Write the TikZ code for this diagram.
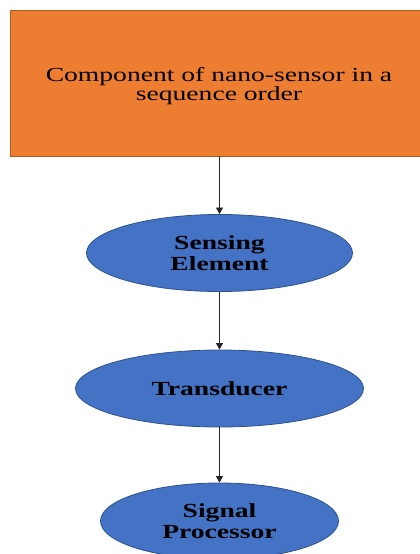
\documentclass[tikz,border=0pt]{standalone}
\usepackage{fontspec}
\setmainfont{Liberation Serif}
\newfontfamily\widefont[FakeStretch=1.38]{Liberation Serif}
\usetikzlibrary{shapes.geometric,arrows.meta}
\definecolor{boxorange}{HTML}{ED7D31}
\definecolor{boxorangeline}{HTML}{AE5A21}
\definecolor{ellblue}{HTML}{4472C4}
\definecolor{ellblueline}{HTML}{2F528F}
\tikzset{
  titlebox/.style={draw=boxorangeline, line width=0.8pt, fill=boxorange},
  stage/.style={ellipse, draw=ellblueline, line width=0.8pt, fill=ellblue, inner sep=0pt,
    align=center, font=\widefont\fontsize{20}{21}\selectfont\bfseries, text=black},
  flow/.style={draw=black!85, line width=0.7pt, -{Triangle[width=7pt,length=6.5pt]}}
}
\begin{document}
\begin{tikzpicture}[x=1pt,y=-1pt]
\useasboundingbox (0,0) rectangle (420,554);
\clip (0,0) rectangle (420,554);
\fill[white] (0,0) rectangle (420,554);
\draw[titlebox] (10,10) rectangle (430,156);
\node[align=center, font=\widefont\fontsize{20}{19.5}\selectfont, text=black] (title) at (219,86)
  {Component of nano-sensor in a\\ sequence order};
\node[stage, minimum width=266pt, minimum height=77pt] (sense) at (219.5,253) {Sensing\\ Element};
\node[stage, minimum width=288pt, minimum height=77pt] (trans) at (219.5,388.5) {Transducer};
\node[stage, minimum width=238pt, minimum height=76pt] (proc) at (219.5,521) {Signal\\ Processor};
\coordinate (boxbot) at (219.5,156);
\draw[flow] (boxbot) -- (sense.north);
\draw[flow] (sense.south) -- (trans.north);
\draw[flow] (trans.south) -- (proc.north);
\end{tikzpicture}
\end{document}
